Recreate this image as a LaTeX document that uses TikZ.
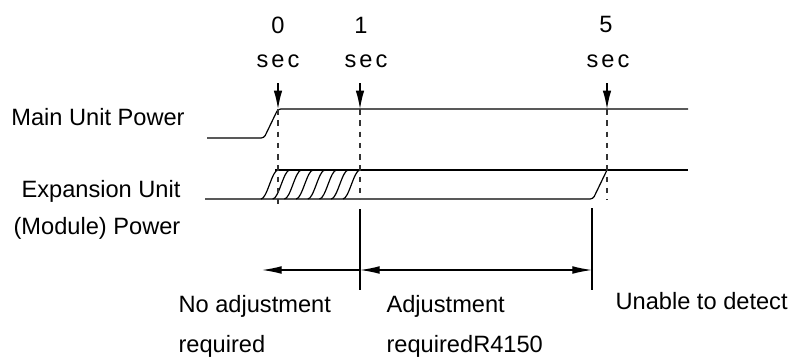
\documentclass[tikz,border=0pt]{standalone}
\usepackage{fontspec}
\setmainfont{Liberation Sans}
\usetikzlibrary{arrows.meta}
\newcommand{\secword}{s\hspace{2.2pt}e\hspace{2.2pt}c}

\begin{document}
\begin{tikzpicture}[x=0.025cm, y=-0.025cm, line width=0.85pt,
        txt/.style = {font=\fontsize{16.8}{20}\selectfont, inner sep=0pt, anchor=base},
        tickarrow/.style = {-{Latex[length=13pt,width=6pt]}},
        guide/.style = {black!80, dash pattern=on 4pt off 4pt},
        spanarrow/.style = {{Latex[length=14pt,width=5.5pt]}-{Latex[length=14pt,width=5.5pt]}}]
    \useasboundingbox (0,0) rectangle (795,356);

    \node[txt] (n0) at (278,33) {0};
    \node[txt] (n1) at (361,33) {1};
    \node[txt] (n5) at (606,32) {5};
    \node[txt] (s0) at (278,67) {\secword};
    \node[txt] (s1) at (366,67) {\secword};
    \node[txt] (s5) at (608,67) {\secword};

    \node[txt] (main) at (98,125) {Main Unit Power};
    \node[txt] (exp1) at (101,197) {Expansion Unit};
    \node[txt] (exp2) at (97,234.5) {(Module) Power};

    \node[txt, anchor=base west] (noadj1) at (178,312) {No adjustment};
    \node[txt, anchor=base west] (noadj2) at (178,352) {required};
    \node[txt, anchor=base west] (adj1) at (386,312) {Adjustment};
    \node[txt, anchor=base west] (adj2) at (386,352) {requiredR4150};
    \node[txt, anchor=base west] (unable) at (615,309) {Unable to detect};

    \coordinate (a0) at (278,83);  \coordinate (t0) at (278,109);
    \coordinate (a1) at (360,83);  \coordinate (t1) at (360,109);
    \coordinate (a5) at (607,83);  \coordinate (t5) at (607,109);
    \coordinate (v1) at (360,209); \coordinate (m1) at (360,270); \coordinate (w1) at (360,290);
    \coordinate (v5) at (592,208); \coordinate (m5) at (592,270); \coordinate (w5) at (592,290);
    \coordinate (l0) at (262,270);

    \draw[tickarrow] (a0) -- (t0);
    \draw[tickarrow] (a1) -- (t1);
    \draw[tickarrow] (a5) -- (t5);

    \draw[rounded corners=2pt] (207,138) -- (264,138) -- (t0) -- (688,109);
    \draw (275,170) -- (688,170);
    \draw[rounded corners=2pt] (205,199) -- (593,199) -- (607,170);
    \foreach \k in {0,...,7}
        \draw ({261+11.7*\k},199) .. controls ({267+11.7*\k},199) and ({272+11.7*\k},170) .. ({278+11.7*\k},170);

    \draw[guide] (t0) -- (278,204);
    \draw[guide] (t1) -- (360,199);
    \draw[guide] (t5) -- (607,200);

    \draw (v1) -- (w1);
    \draw (v5) -- (w5);
    \draw[-{Latex[length=14pt,width=5.5pt]}] (m1) -- (l0);
    \draw[spanarrow] (m1) -- (m5);
\end{tikzpicture}
\end{document}
